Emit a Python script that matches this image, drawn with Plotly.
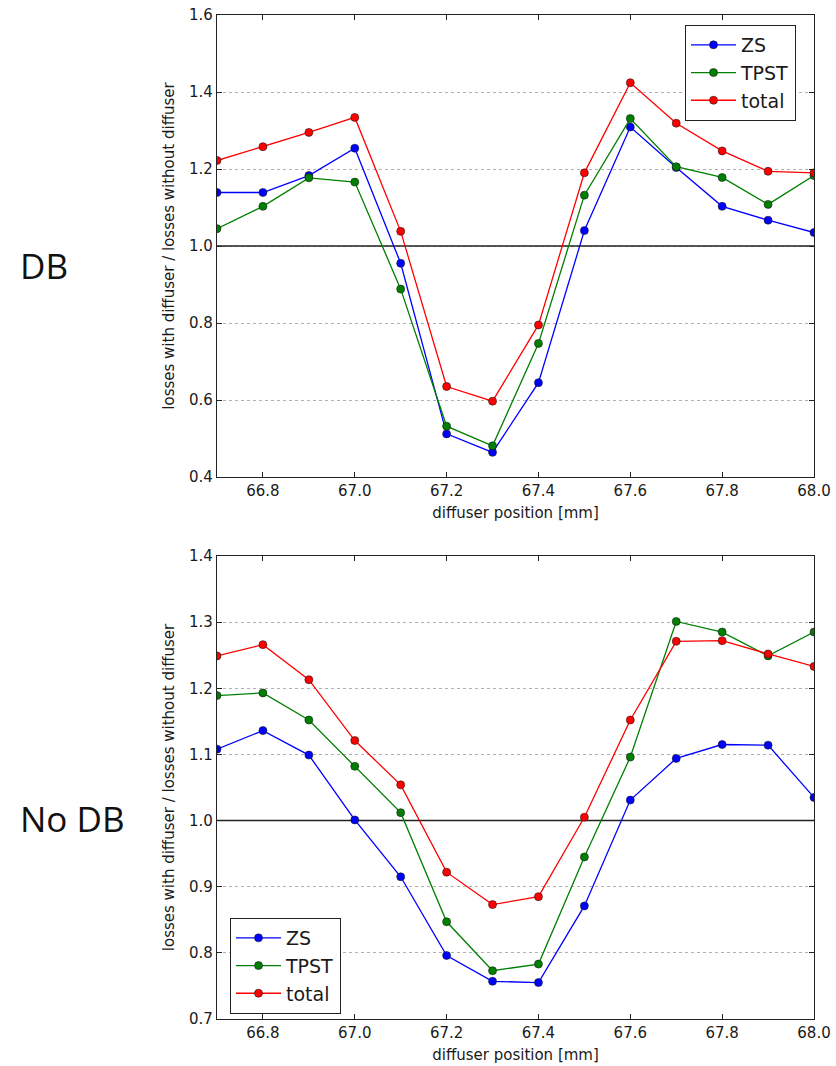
import plotly.graph_objects as go
from plotly.subplots import make_subplots

# diffuser scan positions [mm]
positions = [66.7, 66.8, 66.9, 67.0, 67.1, 67.2, 67.3, 67.4, 67.5, 67.6, 67.7, 67.8, 67.9, 68.0]

# loss ratios with the DB in place
db_zs = [1.139, 1.139, 1.183, 1.254, 0.955, 0.512, 0.464, 0.645, 1.040, 1.309, 1.204, 1.103, 1.067, 1.035]
db_tpst = [1.045, 1.103, 1.177, 1.166, 0.888, 0.532, 0.481, 0.747, 1.132, 1.331, 1.206, 1.178, 1.108, 1.183]
db_total = [1.222, 1.258, 1.295, 1.334, 1.038, 0.635, 0.597, 0.795, 1.190, 1.424, 1.319, 1.247, 1.194, 1.190]

# loss ratios without the DB
nodb_zs = [1.108, 1.136, 1.099, 1.001, 0.915, 0.796, 0.757, 0.755, 0.871, 1.031, 1.094, 1.115, 1.114, 1.035]
nodb_tpst = [1.189, 1.193, 1.152, 1.082, 1.012, 0.847, 0.773, 0.783, 0.945, 1.096, 1.301, 1.285, 1.249, 1.285]
nodb_total = [1.249, 1.266, 1.213, 1.121, 1.054, 0.922, 0.873, 0.885, 1.005, 1.152, 1.271, 1.272, 1.252, 1.233]

series_names = ["ZS", "TPST", "total"]
series_colors = ["#0000ff", "#008000", "#ff0000"]
panel_labels = ["DB", "No DB"]
baseline = 1.0

W, H = 836, 1066
ML, MR, MT, MB = 217, 22, 15, 47

fig = make_subplots(rows=2, cols=1, vertical_spacing=0.0)

panels = [
    (1, [db_zs, db_tpst, db_total], "legend"),
    (2, [nodb_zs, nodb_tpst, nodb_total], "legend2"),
]
for row, series, leg in panels:
    for name, color, vals in zip(series_names, series_colors, series):
        fig.add_trace(
            go.Scatter(
                x=positions, y=vals, name=name, mode="lines+markers",
                line=dict(color=color, width=1.3),
                marker=dict(color=color, size=8, line=dict(color="#1a1a1a", width=0.6)),
                legend=leg, cliponaxis=True,
            ),
            row=row, col=1,
        )

TXT = "#1a1a1a"
tick_font = dict(family="DejaVu Sans", size=15, color=TXT)
title_font = dict(family="DejaVu Sans", size=15, color=TXT)

common_x = dict(
    range=[66.7, 68.0], tick0=66.8, dtick=0.2, tickformat=".1f",
    ticks="inside", ticklen=5, tickcolor="#222", showline=True, linecolor="#222",
    linewidth=1.2, mirror="ticks", showgrid=False, zeroline=False, automargin=False,
    tickfont=tick_font, title=dict(text="diffuser position [mm]", font=title_font, standoff=8),
)
common_y = dict(
    ticks="inside", ticklen=5, tickcolor="#222", showline=True, linecolor="#222",
    linewidth=1.2, mirror="ticks", showgrid=True, gridcolor="#b0b0b0", griddash="dot",
    gridwidth=1, zeroline=False, tickformat=".1f", tickfont=tick_font, automargin=False,
    title=dict(text="losses with diffuser / losses without diffuser", font=title_font, standoff=10),
)

# pixel rows of each panel, converted to paper fractions
plot_h = H - MT - MB
top_dom = [1 - (477 - MT) / plot_h, 1.0]
bot_dom = [0.0, (1019 - 556) / plot_h]

fig.update_xaxes(**common_x)
fig.update_yaxes(**common_y)
fig.update_yaxes(range=[0.4, 1.6], dtick=0.2, domain=top_dom, row=1, col=1)
fig.update_yaxes(range=[0.7, 1.4], dtick=0.1, domain=bot_dom, row=2, col=1)

# reference line at ratio 1, above the grid but under the data
for xref, yref in [("x", "y"), ("x2", "y2")]:
    fig.add_shape(type="line", xref=xref, yref=yref,
                  x0=positions[0], x1=positions[-1], y0=baseline, y1=baseline,
                  line=dict(color="#222", width=1.4), layer="between")

pw = W - ML - MR
def px_x(px):
    return (px - ML) / pw
def px_y(py):
    return 1 - (py - MT) / plot_h

legend_style = dict(
    font=dict(family="DejaVu Sans", size=19, color=TXT),
    bgcolor="white", bordercolor="#222", borderwidth=1,
    xanchor="left", yanchor="top", tracegroupgap=0, itemwidth=45,
)

for label, py in zip(panel_labels, [265, 818]):
    fig.add_annotation(
        text=label, xref="paper", yref="paper", x=px_x(18), y=px_y(py),
        xanchor="left", yanchor="middle", showarrow=False,
        font=dict(family="Open Sans", size=35, color="#111"),
    )

fig.update_layout(
    width=W, height=H,
    margin=dict(l=ML, r=MR, t=MT, b=MB, autoexpand=False),
    paper_bgcolor="white", plot_bgcolor="white",
    showlegend=True,
    legend=dict(x=px_x(685), y=px_y(25), **legend_style),
    legend2=dict(x=px_x(230), y=px_y(918), **legend_style),
)

fig.write_html("out.html")
